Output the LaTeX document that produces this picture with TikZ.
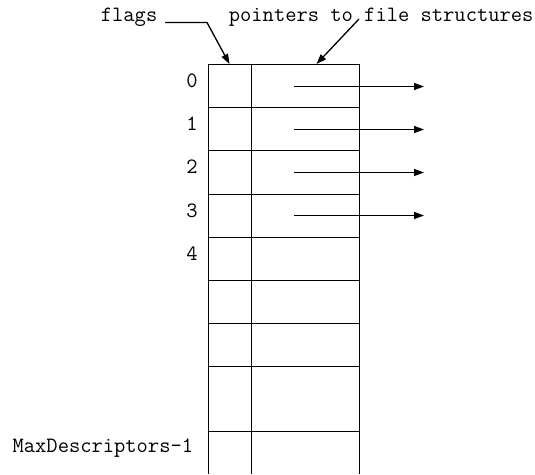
\documentclass[tikz,border=0pt]{standalone}
\usetikzlibrary{arrows.meta}
\begin{document}
\begin{tikzpicture}[x=1pt,y=-1pt,line width=1.8pt,
  lbl/.style={font=\ttfamily\fontsize{21.9}{24}\selectfont,inner sep=0pt},
  ptr/.style={line width=1.3pt,-{Triangle[length=10pt,width=7pt]}}]
\useasboundingbox (0,0) rectangle (535,474);
% table outline
\draw (208.5,474) -- (208.5,64.5) -- (359.5,64.5) -- (359.5,474);
\draw (251.5,64.5) -- (251.5,474);
\foreach \y in {107.5,150.5,194.5,237.5,280.5,323.5,366.5,431.5} \draw (208.5,\y) -- (359.5,\y);
% row labels
\node[lbl] (l0) at (192,81) {0};
\node[lbl] (l1) at (192,124) {1};
\node[lbl] (l2) at (192,167) {2};
\node[lbl] (l3) at (192,210.5) {3};
\node[lbl] (l4) at (192,253.5) {4};
\node[lbl,anchor=east] (lmax) at (194,448.5) {MaxDescriptors-1};
% pointer arrows
\foreach \i/\y in {0/86.5,1/129.5,2/172.5,3/215.5} {
  \coordinate (s\i) at (294,\y);
  \coordinate (e\i) at (424,\y);
  \draw[ptr] (s\i) -- (e\i);
}
% top labels
\node[lbl,anchor=west] (flags) at (100,17) {flags};
\node[lbl,anchor=west] (ptrs) at (228,17) {pointers to file structures};
\coordinate (f0) at (165,22.5);
\coordinate (f1) at (207,22.5);
\coordinate (f2) at (229.5,64);
\draw[ptr] (f0) -- (f1) -- (f2);
\coordinate (p0) at (359,19);
\coordinate (p1) at (316.5,64);
\draw[ptr] (p0) -- (p1);
\end{tikzpicture}
\end{document}
